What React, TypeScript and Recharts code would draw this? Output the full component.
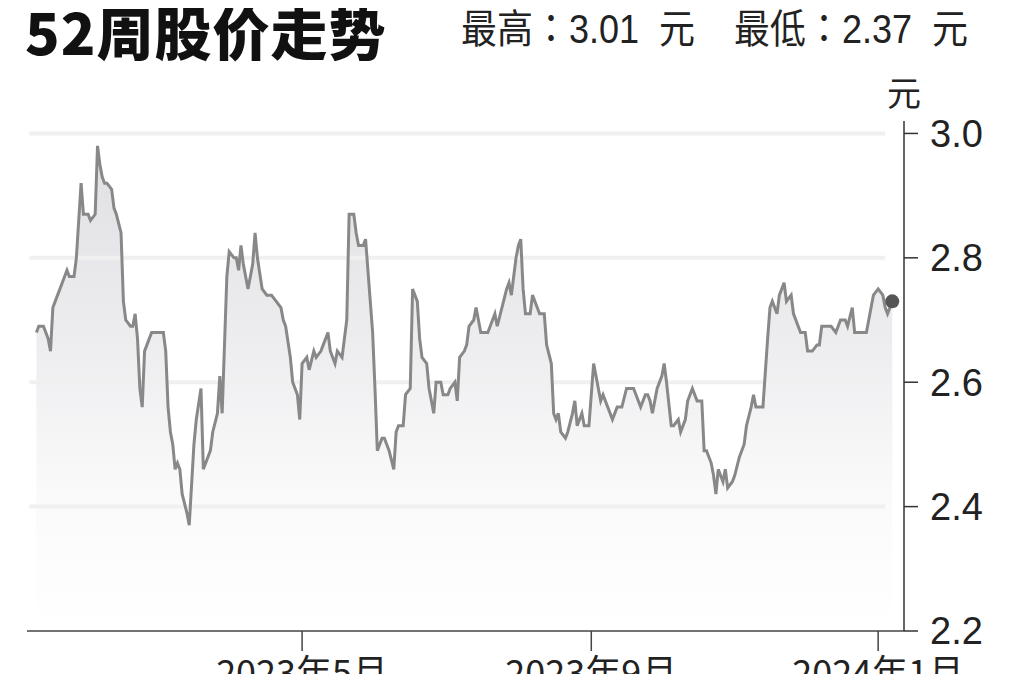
import React from 'react';
import { ComposedChart, Area, Line, XAxis, YAxis, ReferenceLine, ReferenceDot } from 'recharts';

// days counted from 2023-01-01, closing price in yuan
const days = [
  7, 8, 10, 12, 13, 14, 15, 16, 18, 20,
  21, 23, 24, 26, 27, 29, 30, 32, 33, 34,
  35, 36, 37, 39, 40, 41, 43, 44, 45, 47,
  48, 49, 50, 51, 52, 53, 54, 56, 58, 61,
  62, 63, 64, 65, 66, 67, 68, 69, 71, 72,
  74, 75, 77, 78, 79, 81, 82, 84, 85, 86,
  88, 89, 91, 92, 93, 94, 95, 97, 99, 100,
  101, 103, 105, 107, 109, 111, 112, 113, 115, 116,
  118, 119, 120, 122, 123, 125, 126, 128, 129, 131,
  132, 134, 135, 137, 138, 139, 140, 142, 143, 144,
  146, 147, 148, 150, 151, 152, 154, 155, 156, 157,
  159, 160, 161, 163, 164, 166, 167, 169, 170, 171,
  173, 174, 176, 177, 179, 180, 182, 183, 185, 186,
  187, 189, 190, 191, 193, 194, 196, 198, 199, 201,
  202, 203, 205, 207, 208, 209, 211, 212, 213, 214,
  215, 216, 217, 218, 220, 221, 223, 224, 226, 227,
  228, 229, 230, 232, 233, 235, 236, 237, 239, 240,
  242, 243, 244, 246, 247, 248, 250, 252, 254, 256,
  258, 260, 261, 262, 264, 266, 267, 268, 269, 271,
  273, 274, 275, 277, 278, 280, 281, 283, 284, 286,
  287, 288, 290, 291, 292, 294, 295, 296, 297, 299,
  300, 301, 303, 304, 306, 308, 309, 311, 312, 313,
  315, 316, 318, 319, 320, 322, 323, 325, 326, 328,
  329, 331, 332, 334, 335, 337, 339, 340, 341, 343,
  345, 347, 349, 351, 352, 354, 355, 357, 360, 362,
  363, 365, 367, 368, 369, 371,
];

const prices = [
  2.68, 2.69, 2.69, 2.67, 2.65, 2.72, 2.73, 2.74, 2.76, 2.78,
  2.77, 2.77, 2.80, 2.92, 2.87, 2.87, 2.86, 2.87, 2.98, 2.95,
  2.93, 2.92, 2.92, 2.91, 2.88, 2.87, 2.84, 2.73, 2.70, 2.69,
  2.69, 2.71, 2.67, 2.59, 2.56, 2.65, 2.66, 2.68, 2.68, 2.68,
  2.65, 2.56, 2.52, 2.50, 2.46, 2.47, 2.46, 2.42, 2.39, 2.37,
  2.50, 2.54, 2.59, 2.46, 2.47, 2.49, 2.52, 2.55, 2.61, 2.55,
  2.77, 2.81, 2.80, 2.80, 2.78, 2.82, 2.79, 2.75, 2.79, 2.84,
  2.80, 2.75, 2.74, 2.74, 2.73, 2.72, 2.70, 2.69, 2.64, 2.60,
  2.58, 2.54, 2.63, 2.64, 2.62, 2.65, 2.64, 2.65, 2.66, 2.68,
  2.65, 2.63, 2.65, 2.64, 2.67, 2.70, 2.87, 2.87, 2.84, 2.82,
  2.82, 2.83, 2.78, 2.68, 2.59, 2.49, 2.51, 2.51, 2.50, 2.49,
  2.46, 2.52, 2.53, 2.53, 2.58, 2.59, 2.75, 2.73, 2.67, 2.64,
  2.63, 2.59, 2.55, 2.60, 2.60, 2.58, 2.58, 2.59, 2.60, 2.57,
  2.64, 2.65, 2.66, 2.69, 2.70, 2.72, 2.68, 2.68, 2.68, 2.70,
  2.71, 2.69, 2.72, 2.75, 2.76, 2.74, 2.80, 2.82, 2.83, 2.75,
  2.71, 2.71, 2.71, 2.74, 2.72, 2.71, 2.71, 2.66, 2.63, 2.55,
  2.54, 2.55, 2.52, 2.51, 2.52, 2.55, 2.57, 2.53, 2.55, 2.53,
  2.53, 2.58, 2.63, 2.59, 2.57, 2.58, 2.56, 2.54, 2.56, 2.56,
  2.59, 2.59, 2.59, 2.58, 2.56, 2.58, 2.58, 2.57, 2.55, 2.59,
  2.61, 2.63, 2.60, 2.53, 2.53, 2.54, 2.52, 2.54, 2.57, 2.59,
  2.58, 2.57, 2.57, 2.49, 2.49, 2.47, 2.45, 2.42, 2.46, 2.44,
  2.46, 2.43, 2.44, 2.45, 2.48, 2.50, 2.53, 2.56, 2.58, 2.56,
  2.56, 2.56, 2.67, 2.72, 2.73, 2.71, 2.74, 2.76, 2.73, 2.74,
  2.71, 2.69, 2.68, 2.68, 2.65, 2.65, 2.66, 2.66, 2.69, 2.69,
  2.69, 2.68, 2.70, 2.70, 2.69, 2.72, 2.68, 2.68, 2.68, 2.72,
  2.74, 2.75, 2.74, 2.72, 2.71, 2.73,
];

const xTicks = [120, 243, 365];
const xTickLabels = ['2023年5月', '2023年9月', '2024年1月'];
const yTicks = [2.2, 2.4, 2.6, 2.8, 3.0];
const gridValues = [2.4, 2.6, 2.8, 3.0];

const title = '52周股价走势';
const highText = '最高：3.01  元';
const lowText = '最低：2.37  元';
const unitText = '元';

const data = days.map((day, i) => ({ day, price: prices[i] }));
const lastPoint = data[data.length - 1];

const cjk = '"Noto Sans CJK SC", "Liberation Sans", sans-serif';
const latin = '"Liberation Sans", "Noto Sans CJK SC", sans-serif';
const header = '"Liberation Sans", "Noto Sans CJK TC", sans-serif';

const subStyle: React.CSSProperties = {
  position: 'absolute',
  top: 9,
  fontFamily: header,
  fontSize: 40,
  lineHeight: 1,
  color: '#222',
  transform: 'scaleX(0.9)',
  transformOrigin: 'left top',
  whiteSpace: 'pre',
};

const App: React.FC = () => {
  const formatX = (v: number) => {
    const idx = xTicks.indexOf(v);
    return idx >= 0 ? xTickLabels[idx] : '';
  };

  return (
    <div
      style={{
        position: 'relative',
        width: 1024,
        height: 682,
        margin: -8,
        overflow: 'hidden',
        background: '#fff',
      }}
    >
      <div
        style={{
          position: 'absolute',
          left: 25,
          top: 2,
          fontFamily: cjk,
          fontWeight: 900,
          fontSize: 57,
          lineHeight: 1,
          letterSpacing: 1,
          color: '#111',
        }}
      >
        {title}
      </div>
      <div style={{ ...subStyle, left: 461 }}>{highText}</div>
      <div style={{ ...subStyle, left: 734 }}>{lowText}</div>
      <div
        style={{
          position: 'absolute',
          left: 887,
          top: 75,
          fontFamily: cjk,
          fontSize: 34,
          lineHeight: 1,
          color: '#222',
        }}
      >
        {unitText}
      </div>

      <div style={{ position: 'absolute', left: 0, top: 0 }}>
        <ComposedChart
          width={1024}
          height={700}
          data={data}
          margin={{ top: 121, right: 0, left: 27, bottom: 9 }}
        >
          <defs>
            <linearGradient id="priceFill" x1="0" y1="0" x2="0" y2="1">
              <stop offset="0%" stopColor="#e0e0e4" />
              <stop offset="40%" stopColor="#ededf0" />
              <stop offset="72%" stopColor="#fafafa" />
              <stop offset="100%" stopColor="#ffffff" />
            </linearGradient>
          </defs>
          <XAxis
            dataKey="day"
            type="number"
            domain={[3, 376]}
            ticks={xTicks}
            tickFormatter={formatX}
            axisLine={{ stroke: '#444', strokeWidth: 1.5 }}
            tickLine={{ stroke: '#444', strokeWidth: 1.5 }}
            tickSize={20}
            tickMargin={9}
            height={60}
            tick={{ fill: '#222', fontSize: 36, fontFamily: cjk }}
            interval={0}
          />
          <YAxis
            orientation="right"
            type="number"
            domain={[2.2, 3.02]}
            ticks={yTicks}
            tickFormatter={(v: number) => v.toFixed(1)}
            axisLine={{ stroke: '#333', strokeWidth: 1.5 }}
            tickLine={{ stroke: '#333', strokeWidth: 1.5 }}
            tickSize={14}
            tickMargin={12}
            width={120}
            tick={{ fill: '#222', fontSize: 38, fontFamily: latin }}
            interval={0}
            allowDataOverflow
          />
          <Area
            type="linear"
            dataKey="price"
            baseValue={2.2}
            stroke="none"
            fill="url(#priceFill)"
            fillOpacity={1}
            isAnimationActive={false}
          />
          {gridValues.map((v) => (
            <ReferenceLine
              key={v}
              segment={[
                { x: 4, y: v },
                { x: 368, y: v },
              ]}
              stroke="#f0f0f0"
              strokeWidth={4}
            />
          ))}
          <Line
            type="linear"
            dataKey="price"
            stroke="#888888"
            strokeWidth={3}
            dot={false}
            activeDot={false}
            isAnimationActive={false}
          />
          <ReferenceDot x={lastPoint.day} y={lastPoint.price} r={7} fill="#555" stroke="none" />
        </ComposedChart>
      </div>
    </div>
  );
};

export default App;
